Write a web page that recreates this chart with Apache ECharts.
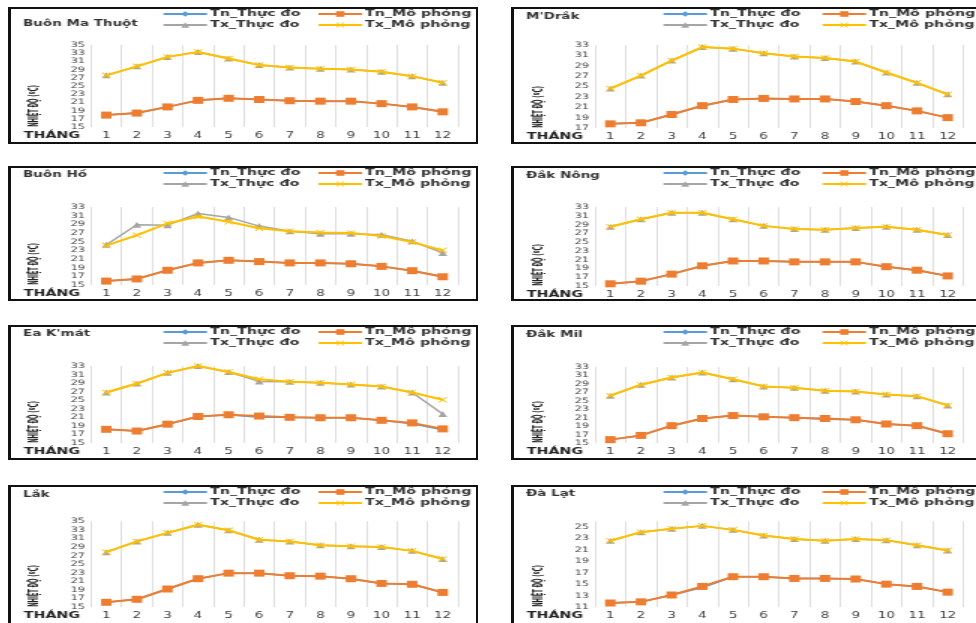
<!DOCTYPE html>
<html><head><meta charset="utf-8">
<script src="https://cdn.jsdelivr.net/npm/echarts@6/dist/echarts.min.js"></script>
<style>
html,body{margin:0;padding:0;width:976px;height:623px;overflow:hidden;background:#fff;font-family:"DejaVu Sans",sans-serif;}
.panel{position:absolute;}
.chart{position:absolute;left:0;top:0;transform-origin:0 0;transform:scaleX(1.5);}
.frame{position:absolute;left:0;top:0;box-sizing:border-box;border:2px solid #111;border-left-width:3px;pointer-events:none;}
</style></head><body>
<script>
// ---- DATA ----
const months = ['1','2','3','4','5','6','7','8','9','10','11','12'];
const seriesNames = ['Tn_Thực đo','Tn_Mô phỏng','Tx_Thực đo','Tx_Mô phỏng'];
const stations = ['Buôn Ma Thuột',"M'Drắk",'Buôn Hồ','Đắk Nông',"Ea K'mát",'Đắk Mil','Lắk','Đà Lạt'];
const axisMin = [15,17,15,15,15,15,15,11];
const axisMax = [35,33,33,33,33,33,35,26];
const axisStep = 2;

const bmtTnObs = [17.9,18.4,19.9,21.5,22.0,21.7,21.4,21.3,21.3,20.7,19.9,18.7];
const bmtTnSim = [17.9,18.4,19.9,21.5,22.0,21.7,21.4,21.3,21.3,20.7,19.9,18.7];
const bmtTxObs = [27.6,29.8,32.1,33.3,31.7,30.1,29.5,29.2,29.0,28.5,27.4,25.8];
const bmtTxSim = [27.6,29.8,32.1,33.3,31.7,30.1,29.5,29.2,29.0,28.5,27.4,25.8];

const mdrTnObs = [17.8,18.0,19.6,21.3,22.5,22.7,22.6,22.6,22.1,21.3,20.3,19.0];
const mdrTnSim = [17.8,18.0,19.6,21.3,22.5,22.7,22.6,22.6,22.1,21.3,20.3,19.0];
const mdrTxObs = [24.6,27.1,30.0,32.6,32.3,31.4,30.8,30.5,29.8,27.7,25.7,23.5];
const mdrTxSim = [24.6,27.1,30.0,32.6,32.3,31.4,30.8,30.5,29.8,27.7,25.7,23.5];

const bhoTnObs = [15.9,16.4,18.4,20.1,20.7,20.4,20.1,20.1,19.9,19.3,18.3,16.9];
const bhoTnSim = [15.9,16.4,18.4,20.1,20.7,20.4,20.1,20.1,19.9,19.3,18.3,16.9];
const bhoTxObs = [24.3,28.9,28.8,31.5,30.6,28.6,27.4,26.8,26.8,26.6,25.1,22.4];
const bhoTxSim = [24.1,26.5,29.2,30.8,29.6,28.1,27.4,27.1,27.0,26.3,24.9,23.0];

const dnoTnObs = [15.5,16.1,17.7,19.6,20.7,20.7,20.5,20.5,20.5,19.4,18.6,17.3];
const dnoTnSim = [15.5,16.1,17.7,19.6,20.7,20.7,20.5,20.5,20.5,19.4,18.6,17.3];
const dnoTxObs = [28.5,30.2,31.7,31.7,30.2,28.7,28.0,27.8,28.2,28.5,27.8,26.6];
const dnoTxSim = [28.5,30.2,31.7,31.7,30.2,28.7,28.0,27.8,28.2,28.5,27.8,26.6];

const ekmTnObs = [18.2,17.8,19.4,21.2,21.6,21.0,21.0,20.9,20.9,20.3,19.5,18.1];
const ekmTnSim = [18.2,17.8,19.4,21.2,21.6,21.3,21.0,20.9,20.9,20.3,19.7,18.3];
const ekmTxObs = [26.8,28.9,31.4,33.0,31.6,29.4,29.3,29.1,28.7,28.2,26.8,21.8];
const ekmTxSim = [26.8,28.9,31.4,33.0,31.6,29.9,29.3,29.1,28.7,28.2,26.8,25.1];

const dmiTnObs = [15.8,16.8,19.1,20.8,21.5,21.2,21.0,20.6,20.5,19.5,19.1,17.2];
const dmiTnSim = [15.8,16.8,19.1,20.8,21.5,21.2,21.0,20.8,20.5,19.5,19.1,17.2];
const dmiTxObs = [26.2,28.8,30.5,31.7,30.1,28.4,28.1,27.4,27.2,26.5,26.1,23.9];
const dmiTxSim = [26.2,28.8,30.5,31.7,30.1,28.4,28.1,27.4,27.2,26.5,26.1,23.9];

const lakTnObs = [16.1,16.8,19.2,21.6,22.9,22.9,22.3,22.2,21.6,20.5,20.3,18.4];
const lakTnSim = [16.1,16.8,19.2,21.6,22.9,22.9,22.3,22.2,21.6,20.5,20.3,18.4];
const lakTxObs = [27.8,30.3,32.3,34.2,32.9,30.7,30.3,29.4,29.2,29.0,28.1,26.2];
const lakTxSim = [27.8,30.3,32.3,34.2,32.9,30.7,30.3,29.4,29.2,29.0,28.1,26.2];

const dlaTnObs = [11.7,11.9,13.1,14.4,16.3,16.3,16.0,16.0,15.9,15.0,14.6,13.6];
const dlaTnSim = [11.7,11.9,13.1,14.6,16.3,16.3,16.0,16.0,15.9,15.0,14.6,13.6];
const dlaTxObs = [22.6,24.1,24.7,25.2,24.5,23.5,22.9,22.6,22.9,22.7,21.8,20.9];
const dlaTxSim = [22.6,24.1,24.7,25.2,24.5,23.5,22.9,22.6,22.9,22.7,21.8,20.9];

const stationData = [
  [bmtTnObs,bmtTnSim,bmtTxObs,bmtTxSim],
  [mdrTnObs,mdrTnSim,mdrTxObs,mdrTxSim],
  [bhoTnObs,bhoTnSim,bhoTxObs,bhoTxSim],
  [dnoTnObs,dnoTnSim,dnoTxObs,dnoTxSim],
  [ekmTnObs,ekmTnSim,ekmTxObs,ekmTxSim],
  [dmiTnObs,dmiTnSim,dmiTxObs,dmiTxSim],
  [lakTnObs,lakTnSim,lakTxObs,lakTxSim],
  [dlaTnObs,dlaTnSim,dlaTxObs,dlaTxSim]
];

// ---- LAYOUT ----
const S = 1.5;
const frameX = [8, 511];
const frameY = [7, 166, 325, 485];
const frameH = [137, 135, 135, 140];
const frameW = 470;
const axisTopAbs = [45, 45, 207, 207, 366, 367, 521.3, 521.3];
const axisBotAbs = [127, 128, 285, 286, 443, 443, 607, 607];
const titleTop = [12, 5, 4.5, 5.5, 4.5, 5, 5.5, 4.5];
const colors = ['#5B9BD5','#ED7D31','#A5A5A5','#FFC000'];
const xSym = 'path://M1,0L5,4L9,0L10,1L6,5L10,9L9,10L5,6L1,10L0,9L4,5L0,1Z';
const symbols = ['diamond','rect','triangle',xSym];
const symSizes = [4,7,6,6];
const lineW = [1.5,2,1.5,2];

for (let i = 0; i < 8; i++) {
  const col = i % 2, row = Math.floor(i / 2);
  const fx = frameX[col], fy = frameY[row], fh = frameH[row];
  const panel = document.createElement('div');
  panel.className = 'panel';
  panel.style.left = fx + 'px'; panel.style.top = fy + 'px';
  panel.style.width = frameW + 'px'; panel.style.height = fh + 'px';
  const chartDiv = document.createElement('div');
  chartDiv.className = 'chart';
  const innerW = Math.round(frameW / S);
  chartDiv.style.width = innerW + 'px'; chartDiv.style.height = fh + 'px';
  const frame = document.createElement('div');
  frame.className = 'frame';
  frame.style.width = frameW + 'px'; frame.style.height = (fh + (row === 3 ? 10 : 0)) + 'px';
  panel.appendChild(chartDiv); panel.appendChild(frame);
  document.body.appendChild(panel);

  const gl = (col === 0 ? 83 : 84) / S;
  const gw = (col === 0 ? 367 : 368) / S;
  const gt = axisTopAbs[i] - fy;
  const gb = axisBotAbs[i] - fy;
  const lg1 = (col === 0 ? 154 : 151) / S;
  const lg2 = (col === 0 ? 309 : 310) / S;
  const legendText = {fontSize: 9.5, fontWeight: 'bold', color: '#333', fontFamily: 'DejaVu Sans', padding: [0, 0, 0, -3]};

  const series = seriesNames.map((n, k) => ({
    name: n, type: 'line', data: stationData[i][k],
    symbol: symbols[k], symbolSize: symSizes[k],
    lineStyle: {color: colors[k], width: lineW[k]},
    itemStyle: {color: colors[k]},
    z: 2 + k
  }));

  const chart = echarts.init(chartDiv, null, {renderer: 'canvas', width: innerW, height: fh});
  chart.setOption({
    animation: false,
    textStyle: {fontFamily: 'DejaVu Sans'},
    title: {text: stations[i], left: 10, top: titleTop[i], padding: 0,
      textStyle: {fontSize: 9, fontWeight: 'bold', color: '#333', fontFamily: 'DejaVu Sans'}},
    legend: [
      {orient: 'vertical', left: lg1, top: 2, padding: 0, itemGap: 1, itemWidth: 29, itemHeight: 7,
       data: [seriesNames[0], seriesNames[2]], textStyle: legendText},
      {orient: 'vertical', left: lg2, top: 2, padding: 0, itemGap: 1, itemWidth: 29, itemHeight: 7,
       data: [seriesNames[1], seriesNames[3]], textStyle: legendText}
    ],
    grid: {left: gl, width: gw, top: gt, height: gb - gt},
    xAxis: {type: 'category', data: months, boundaryGap: true,
      axisLine: {show: false}, axisTick: {show: false},
      axisLabel: {fontSize: 9, color: '#404040', margin: 4},
      splitLine: {show: true, lineStyle: {color: '#DEDEDE', width: 1}}},
    yAxis: {type: 'value', min: axisMin[i], max: axisMax[i], interval: axisStep,
      axisLine: {show: false}, axisTick: {show: false}, splitLine: {show: false},
      axisLabel: {fontSize: 7.5, color: '#404040', margin: 4, showMaxLabel: (axisMax[i] - axisMin[i]) % axisStep === 0}},
    graphic: [
      {type: 'text', x: 29.3, y: gb + 9, silent: true,
       style: {text: 'THÁNG', align: 'center', verticalAlign: 'middle', fontSize: 9.5, fontWeight: 'bold', fill: '#222', fontFamily: 'DejaVu Sans'}},
      {type: 'text', x: col === 0 ? 18 : 19.3, y: gb - 21, rotation: Math.PI / 2, scaleX: 0.65, silent: true,
       style: {text: 'NHIỆT ĐỘ (ºC)', align: 'center', verticalAlign: 'middle', fontSize: 8, fontWeight: 'bold', fill: '#222', fontFamily: 'DejaVu Sans'}}
    ],
    series: series
  });
}
</script>
</body></html>
